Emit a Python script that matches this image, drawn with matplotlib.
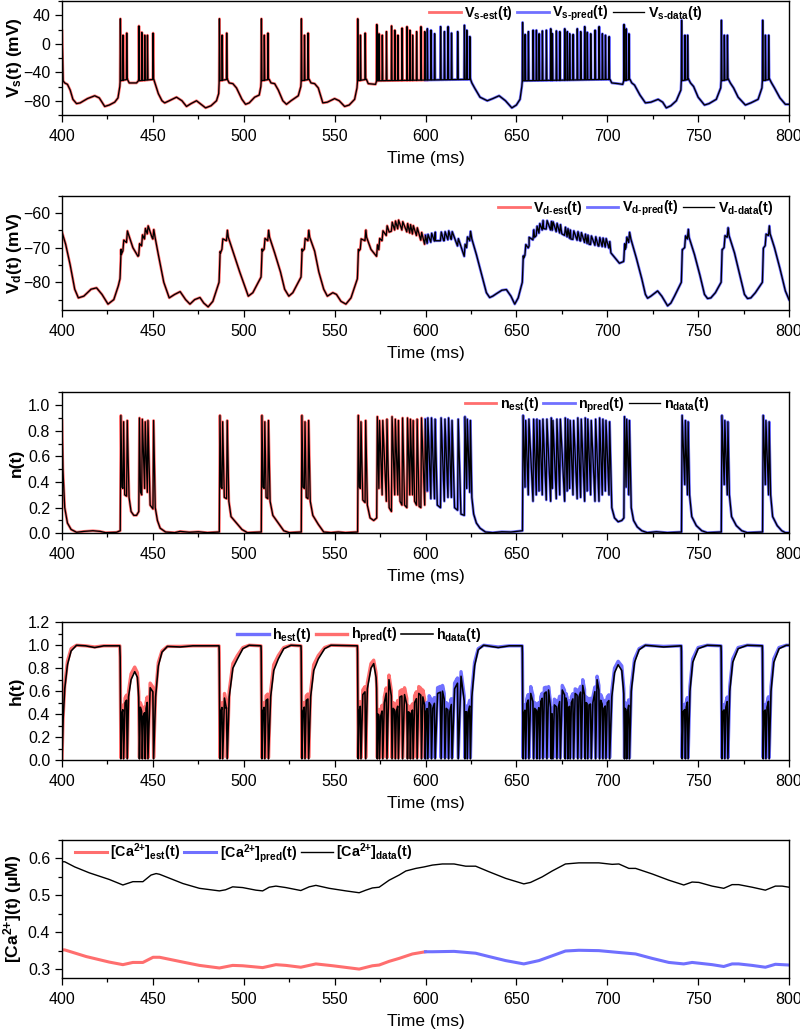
import numpy as np
import matplotlib
matplotlib.use('Agg')
import matplotlib.pyplot as plt
from matplotlib.ticker import MultipleLocator

plt.rcParams['font.family'] = ['Liberation Sans', 'DejaVu Sans']
plt.rcParams['mathtext.fontset'] = 'custom'
plt.rcParams['mathtext.rm'] = 'Liberation Sans:bold'
plt.rcParams['mathtext.it'] = 'Liberation Sans:bold'
plt.rcParams['mathtext.bf'] = 'Liberation Sans:bold'
plt.rcParams['mathtext.default'] = 'rm'

# ---------------- data ----------------
SPLIT_T = 600.0

SPIKE_T = [
    432.1, 433.6, 435.6, 442.3, 443.9, 445.5, 447.0, 450.1,
    486.6, 488.1, 490.6,
    509.7, 511.3, 513.3,
    531.7, 533.4, 535.4,
    562.7, 564.2, 566.8,
    573.2, 574.4, 576.2, 578.5, 581.3, 583.1, 584.8, 587.1, 589.8, 591.4, 592.9, 595.1, 597.5, 599.6,
    601.0, 603.0, 605.0, 608.3, 610.4, 612.4, 614.3, 617.7, 621.4, 622.7, 624.4,
    653.4, 654.8, 656.6, 659.2, 661.0, 662.5, 664.3, 666.5, 668.9, 669.8, 672.0, 673.9, 676.6,
    678.0, 679.3, 681.2, 683.5, 685.4, 687.6, 689.0, 690.9, 693.3, 695.5, 697.3, 699.0, 701.0,
    709.2, 710.4, 711.9,
    740.9, 742.7, 744.2,
    762.8, 764.4, 766.1,
    785.5, 787.0, 788.8]

VS_PEAK = [
    35, 12, 15, 25, 16, 12, 12, 15,
    35, 12, 15,
    35, 12, 15,
    35, 12, 15,
    35, 12, 15,
    27, 14, 12, 17, 25, 19, 12, 22, 24, 19, 12, 17, 24, 17,
    21, 19, 14, 24, 17, 24, 15, 17, 26, 19, 10,
    30, 13, 17, 19, 19, 14, 18, 19, 21, 14, 18, 17, 21,
    17, 14, 13, 21, 17, 24, 16, 14, 19, 24, 14, 12, 10,
    27, 21, 14,
    33, 12, 12,
    33, 12, 12,
    33, 12, 12]

N_PEAK = [
    0.92, 0.87, 0.88, 0.90, 0.89, 0.87, 0.88, 0.88,
    0.92, 0.87, 0.88,
    0.92, 0.87, 0.88,
    0.92, 0.87, 0.88,
    0.92, 0.87, 0.88,
    0.91, 0.88, 0.88, 0.89, 0.91, 0.89, 0.88, 0.90, 0.90, 0.89, 0.88, 0.89, 0.90, 0.89,
    0.90, 0.90, 0.89, 0.90, 0.89, 0.90, 0.88, 0.89, 0.91, 0.89, 0.88,
    0.92, 0.88, 0.89, 0.89, 0.89, 0.88, 0.89, 0.89, 0.90, 0.88, 0.89, 0.89, 0.90,
    0.89, 0.88, 0.88, 0.90, 0.89, 0.90, 0.89, 0.88, 0.89, 0.90, 0.89, 0.88, 0.87,
    0.91, 0.89, 0.88,
    0.92, 0.88, 0.87,
    0.92, 0.88, 0.87,
    0.92, 0.88, 0.87]

# soma voltage: sub-threshold path and inter-spike levels (t, mV)
VS_BASE = [
    (400.0, 18), (400.6, -52), (401.5, -55), (403.0, -57), (404.5, -65), (406.0, -78), (408.0, -84),
    (410.0, -83), (414.0, -77), (418.0, -73), (420.5, -76), (423.5, -88), (426.0, -86), (429.0, -82),
    (430.8, -76), (431.8, -60), (432.0, -52),
    (436.0, -50), (437.0, -55), (441.0, -55), (442.0, -52), (450.5, -50), (451.5, -58), (453.0, -70),
    (455.0, -80), (456.5, -83), (459.0, -80), (463.0, -75), (466.0, -80), (468.5, -88), (471.0, -84),
    (474.0, -80), (476.5, -85), (479.0, -90), (482.0, -87), (485.0, -80), (486.2, -70), (486.5, -52),
    (491.0, -50), (492.0, -55), (494.0, -56), (496.0, -62), (499.0, -78), (501.0, -85), (503.0, -83),
    (506.0, -75), (508.5, -72), (509.4, -60), (509.6, -52),
    (514.0, -50), (515.0, -55), (517.0, -56), (519.0, -65), (521.5, -80), (523.5, -85), (526.0, -80),
    (530.0, -73), (531.4, -60), (531.6, -52),
    (536.0, -50), (537.0, -55), (539.0, -56), (541.0, -62), (543.5, -83), (546.0, -82), (550.0, -77),
    (552.5, -80), (555.5, -88), (558.0, -86), (561.0, -78), (562.3, -62), (562.6, -52),
    (567.5, -50), (568.5, -56), (572.5, -57), (573.1, -52), (624.8, -50), (625.5, -55), (627.0, -62),
    (630.0, -75), (634.0, -80), (637.0, -77), (640.5, -73), (644.0, -80), (647.5, -90), (650.0, -86),
    (652.0, -78), (653.0, -60), (653.2, -52),
    (701.5, -50), (702.5, -55), (706.0, -56), (708.5, -57), (709.0, -52), (712.5, -50), (713.5, -55),
    (715.0, -58), (718.0, -72), (721.0, -83), (724.0, -82), (728.0, -78), (730.5, -82), (732.5, -90),
    (735.0, -87), (738.0, -80), (740.5, -65), (740.7, -52),
    (744.8, -50), (745.8, -55), (747.5, -60), (750.0, -75), (753.5, -86), (756.0, -84), (760.0, -78),
    (762.4, -62), (762.6, -52),
    (766.7, -50), (767.7, -55), (769.5, -62), (772.0, -75), (776.0, -86), (779.0, -83), (783.0, -78),
    (785.1, -62), (785.3, -52),
    (789.4, -50), (790.4, -55), (792.0, -62), (795.0, -76), (798.0, -85), (800.0, -85)]

# dendritic voltage: lower envelope (t, mV); each spike adds a small step
VD_JUMP = 2.5
VD_BASE = [
    (400.0, -65.5), (402.0, -69.0), (404.5, -75.0), (407.0, -82.0), (409.0, -84.5), (412.0, -84.0),
    (416.0, -82.0), (419.0, -81.6), (422.0, -83.5), (425.3, -86.3), (428.5, -85.0), (431.0, -81.0),
    (431.9, -79.0), (432.6, -72.0), (433.45, -71.0), (435.45, -68.5), (436.8, -66.5), (439.0, -70.0),
    (441.8, -72.5), (442.15, -72.3), (443.75, -69.5), (445.35, -67.5), (446.85, -66.0), (449.5, -67.0),
    (449.95, -67.5), (451.2, -67.0), (453.0, -72.0), (456.0, -80.0), (459.0, -84.5), (462.0, -83.5),
    (465.0, -82.7), (468.0, -85.0), (470.4, -86.3), (473.0, -85.0), (475.9, -84.4), (478.0, -86.0),
    (480.4, -87.1), (483.0, -85.5), (486.4, -80.0),
    (487.2, -71.5), (487.95, -70.5), (490.45, -68.0), (491.5, -67.0), (494.0, -71.0), (497.7, -76.9),
    (500.5, -81.0), (502.5, -84.0), (505.0, -83.0), (509.5, -78.5),
    (510.3, -71.0), (511.15, -70.5), (513.15, -68.0), (514.2, -67.0), (517.0, -71.5), (520.2, -77.0),
    (522.5, -82.0), (524.8, -84.0), (527.0, -83.0), (531.5, -78.5),
    (532.3, -71.0), (533.25, -70.5), (535.25, -68.0), (536.3, -67.0), (539.0, -71.0), (541.3, -77.0),
    (544.0, -82.0), (546.0, -84.0), (549.0, -83.0), (551.0, -83.5), (553.5, -85.5), (556.2, -86.3),
    (559.0, -84.5), (562.5, -79.0),
    (563.3, -71.0), (564.05, -70.5), (566.65, -68.0), (567.6, -67.0), (570.0, -70.5), (573.05, -72.5),
    (576.0, -68.0), (580.0, -65.5), (585.0, -64.5), (590.0, -65.5), (595.0, -66.5), (599.5, -69.0),
    (605.5, -68.0), (610.0, -68.0), (614.0, -67.5), (617.6, -69.5), (621.3, -72.5), (622.6, -70.0),
    (624.3, -68.0), (625.5, -67.5), (628.0, -72.0), (631.0, -78.0), (633.5, -83.0), (635.3, -84.4),
    (637.0, -84.0), (639.0, -83.3), (642.0, -82.3), (644.5, -82.1), (647.0, -84.0), (649.1, -86.3),
    (651.0, -84.5), (653.25, -80.0),
    (654.0, -73.0), (657.0, -69.5), (660.0, -67.0), (665.0, -64.5), (670.0, -65.0), (675.0, -66.0),
    (680.0, -67.5), (685.0, -68.0), (690.0, -69.0), (695.0, -69.5), (700.8, -70.0), (702.0, -71.5),
    (706.7, -74.5), (709.0, -74.0), (709.8, -70.5), (710.25, -70.0), (711.75, -68.5), (713.0, -67.5),
    (716.0, -73.0), (719.0, -79.0), (721.0, -83.5), (722.2, -84.6), (724.0, -84.0), (727.7, -82.5),
    (730.0, -84.0), (733.2, -86.8), (735.0, -86.0), (737.0, -84.0), (740.75, -80.0),
    (741.5, -70.5), (742.55, -70.0), (744.05, -67.5), (745.0, -67.0), (748.0, -72.0), (751.0, -78.0),
    (753.5, -83.5), (755.2, -84.7), (757.0, -84.5), (759.5, -83.0), (762.65, -80.0),
    (763.4, -70.5), (764.25, -70.0), (765.95, -67.0), (767.0, -66.5), (770.0, -71.5), (773.0, -78.0),
    (775.5, -83.5), (777.2, -84.7), (779.0, -84.5), (781.5, -83.0), (785.35, -80.0),
    (786.1, -70.0), (786.85, -69.5), (788.65, -66.5), (789.6, -66.0), (792.0, -70.0), (795.0, -76.0),
    (798.0, -82.5), (800.0, -85.0)]

# n gating variable: troughs between spikes (t, n)
N_BASE = [
    (400.0, 0.88), (400.5, 0.50), (401.5, 0.20), (403.0, 0.08), (405.0, 0.03), (408.0, 0.008),
    (412.0, 0.015), (417.0, 0.02), (421.0, 0.015), (424.0, 0.005), (430.0, 0.008), (432.05, 0.02),
    (433.0, 0.36), (433.55, 0.35), (434.5, 0.30), (435.55, 0.29), (436.9, 0.28), (438.0, 0.17),
    (439.5, 0.14), (441.0, 0.14), (442.25, 0.17), (443.2, 0.32), (443.85, 0.30), (445.45, 0.35),
    (446.95, 0.32), (448.5, 0.22), (450.05, 0.19), (451.3, 0.20), (452.5, 0.10), (454.0, 0.04),
    (457.0, 0.01), (462.0, 0.005), (465.0, 0.015), (470.0, 0.008), (475.0, 0.012), (480.0, 0.005),
    (486.55, 0.01),
    (487.5, 0.36), (488.05, 0.35), (489.3, 0.28), (490.55, 0.27), (491.8, 0.25), (493.0, 0.13),
    (496.0, 0.08), (499.0, 0.03), (502.0, 0.005), (509.65, 0.01),
    (510.6, 0.36), (511.25, 0.35), (512.3, 0.28), (513.25, 0.27), (514.5, 0.25), (516.0, 0.14),
    (519.0, 0.08), (522.0, 0.02), (525.0, 0.005), (531.65, 0.01),
    (532.6, 0.36), (533.35, 0.35), (534.4, 0.28), (535.35, 0.27), (536.6, 0.25), (538.0, 0.14),
    (541.0, 0.07), (544.0, 0.01), (548.0, 0.005), (552.0, 0.01), (556.0, 0.005), (562.65, 0.01),
    (563.6, 0.36), (564.15, 0.35), (565.5, 0.26), (566.75, 0.24), (568.0, 0.22), (569.5, 0.12),
    (571.5, 0.10), (573.15, 0.12),
    (574.35, 0.35), (576.15, 0.30), (578.45, 0.25), (580.0, 0.20), (581.25, 0.17), (583.05, 0.30),
    (584.75, 0.30), (586.0, 0.25), (587.05, 0.22), (588.5, 0.22), (589.75, 0.20), (591.35, 0.30),
    (592.85, 0.30), (594.0, 0.25), (595.05, 0.22), (596.5, 0.21), (597.45, 0.20), (599.55, 0.22),
    (600.95, 0.33), (602.95, 0.27), (604.95, 0.27), (606.5, 0.22), (608.25, 0.20), (610.35, 0.25),
    (612.35, 0.28), (614.25, 0.28), (616.0, 0.20), (617.65, 0.18), (619.5, 0.15), (621.35, 0.14),
    (622.65, 0.35), (624.35, 0.32), (625.5, 0.28), (626.5, 0.15), (628.0, 0.08), (630.0, 0.04),
    (633.0, 0.01), (637.0, 0.005), (642.0, 0.012), (647.0, 0.01), (653.35, 0.02),
    (654.75, 0.36), (656.55, 0.30), (659.15, 0.25), (660.95, 0.30), (662.45, 0.33), (664.25, 0.30),
    (666.45, 0.26), (668.85, 0.25), (669.75, 0.35), (671.95, 0.27), (673.85, 0.30), (676.55, 0.25),
    (677.95, 0.33), (679.25, 0.35), (681.15, 0.30), (683.45, 0.27), (685.35, 0.28), (687.55, 0.25),
    (688.95, 0.33), (690.85, 0.30), (693.25, 0.25), (695.45, 0.25), (697.25, 0.30), (698.95, 0.33),
    (700.95, 0.30), (702.5, 0.20), (704.0, 0.12), (706.0, 0.09), (708.0, 0.10), (709.15, 0.12),
    (710.35, 0.36), (711.85, 0.30), (713.2, 0.20), (714.5, 0.10), (716.5, 0.05), (719.0, 0.02),
    (722.0, 0.005), (727.0, 0.012), (733.0, 0.005), (740.85, 0.01),
    (742.65, 0.38), (744.15, 0.30), (745.3, 0.30), (746.5, 0.13), (749.0, 0.06), (752.0, 0.02),
    (755.0, 0.005), (762.75, 0.01),
    (764.35, 0.38), (766.05, 0.30), (767.2, 0.30), (768.4, 0.13), (771.0, 0.06), (774.0, 0.02),
    (777.0, 0.005), (785.45, 0.01),
    (786.95, 0.38), (788.75, 0.30), (789.9, 0.30), (791.0, 0.13), (793.5, 0.06), (796.0, 0.02),
    (798.0, 0.005), (800.0, 0.005)]

# h gating variable: recovery levels between spikes (t, data, est/pred)
H_MIN = 0.01
H_BASE = [
    (400.0, 0.00, 0.00), (400.6, 0.35, 0.37), (401.5, 0.62, 0.65), (403.0, 0.83, 0.86),
    (405.0, 0.95, 0.97), (408.0, 1.00, 1.00), (413.0, 0.995, 0.995), (418.0, 0.98, 0.985),
    (423.0, 0.995, 0.995), (431.8, 0.995, 0.995),
    (432.95, 0.41, 0.45), (434.7, 0.50, 0.54), (436.6, 0.55, 0.60), (438.0, 0.70, 0.75),
    (440.0, 0.77, 0.81), (441.5, 0.72, 0.76), (442.15, 0.55, 0.60), (443.1, 0.46, 0.50),
    (444.7, 0.38, 0.43), (446.25, 0.45, 0.50), (448.5, 0.63, 0.67), (449.8, 0.60, 0.64),
    (451.5, 0.55, 0.58), (453.0, 0.82, 0.85), (455.0, 0.94, 0.95), (458.0, 0.99, 0.99),
    (465.0, 0.985, 0.99), (472.0, 0.995, 0.995), (486.4, 0.995, 0.995),
    (487.35, 0.42, 0.46), (489.4, 0.54, 0.58), (490.4, 0.45, 0.50), (492.0, 0.55, 0.60),
    (494.0, 0.80, 0.84), (496.5, 0.88, 0.91), (499.5, 0.97, 0.98), (503.0, 1.00, 1.00),
    (509.5, 0.995, 0.995),
    (510.5, 0.42, 0.46), (512.3, 0.52, 0.56), (514.8, 0.55, 0.60), (516.5, 0.78, 0.83),
    (519.0, 0.88, 0.91), (522.0, 0.97, 0.98), (526.0, 1.00, 1.00), (531.5, 0.995, 0.995),
    (532.55, 0.42, 0.46), (534.4, 0.52, 0.56), (536.8, 0.55, 0.60), (538.5, 0.78, 0.83),
    (541.0, 0.88, 0.91), (544.5, 0.97, 0.98), (548.0, 1.00, 1.00), (562.5, 0.995, 0.995),
    (563.45, 0.42, 0.46), (565.5, 0.57, 0.61), (568.0, 0.62, 0.67), (570.0, 0.80, 0.84),
    (571.5, 0.84, 0.87), (572.8, 0.72, 0.76), (573.8, 0.40, 0.44), (575.3, 0.38, 0.43),
    (577.35, 0.50, 0.55), (579.9, 0.70, 0.74), (582.2, 0.45, 0.50), (583.95, 0.42, 0.47),
    (585.95, 0.55, 0.60), (588.45, 0.57, 0.63), (590.6, 0.42, 0.47), (592.15, 0.40, 0.45),
    (594.0, 0.50, 0.56), (596.3, 0.58, 0.64), (598.55, 0.55, 0.61), (600.3, 0.42, 0.47),
    (602.0, 0.50, 0.56), (604.0, 0.45, 0.50), (606.65, 0.58, 0.63), (609.35, 0.60, 0.65),
    (611.4, 0.45, 0.50), (613.35, 0.42, 0.47), (616.0, 0.62, 0.67), (619.55, 0.73, 0.77),
    (622.05, 0.42, 0.47), (623.55, 0.42, 0.47), (625.5, 0.55, 0.60), (627.0, 0.82, 0.85),
    (629.0, 0.96, 0.97), (632.0, 1.00, 1.00), (640.0, 0.98, 0.985), (646.0, 0.995, 0.995),
    (653.2, 0.995, 0.995),
    (654.1, 0.40, 0.45), (655.7, 0.49, 0.53), (657.9, 0.58, 0.64), (660.1, 0.45, 0.50),
    (661.75, 0.42, 0.47), (663.4, 0.51, 0.55), (665.4, 0.58, 0.63), (667.7, 0.61, 0.64),
    (669.35, 0.38, 0.43), (670.9, 0.48, 0.53), (672.95, 0.45, 0.50), (675.25, 0.61, 0.65),
    (677.3, 0.54, 0.58), (678.65, 0.45, 0.50), (680.25, 0.50, 0.55), (682.35, 0.58, 0.62),
    (684.45, 0.55, 0.60), (686.5, 0.65, 0.70), (688.3, 0.50, 0.55), (689.95, 0.48, 0.53),
    (692.1, 0.50, 0.55), (694.4, 0.70, 0.73), (696.4, 0.52, 0.57), (698.15, 0.45, 0.50),
    (700.0, 0.50, 0.55), (702.5, 0.55, 0.60), (704.0, 0.76, 0.80), (706.0, 0.83, 0.86),
    (708.0, 0.78, 0.82), (709.8, 0.45, 0.50), (711.15, 0.42, 0.47), (713.2, 0.60, 0.64),
    (715.0, 0.85, 0.88), (717.5, 0.96, 0.97), (721.0, 1.00, 1.00), (731.0, 0.985, 0.99),
    (740.7, 0.995, 0.995),
    (741.8, 0.42, 0.47), (743.45, 0.46, 0.50), (745.5, 0.60, 0.64), (747.0, 0.85, 0.88),
    (750.0, 0.97, 0.98), (755.0, 1.00, 1.00), (762.6, 0.995, 0.995),
    (763.6, 0.42, 0.47), (765.25, 0.46, 0.50), (767.4, 0.60, 0.64), (769.0, 0.85, 0.88),
    (772.0, 0.97, 0.98), (777.0, 1.00, 1.00), (785.3, 0.995, 0.995),
    (786.25, 0.42, 0.47), (787.9, 0.46, 0.50), (790.1, 0.60, 0.64), (791.6, 0.85, 0.88),
    (794.5, 0.97, 0.98), (798.5, 1.00, 1.00), (800.0, 1.00, 1.00)]

# calcium (t, uM)
CA_DATA = [
    (400.0, 0.591), (401.5, 0.591), (407.0, 0.577), (415.0, 0.561), (426.0, 0.543), (433.5, 0.528),
    (435.3, 0.531), (439.0, 0.537), (444.5, 0.537), (449.0, 0.555), (451.8, 0.559), (453.7, 0.557),
    (457.3, 0.550), (466.5, 0.532), (475.6, 0.519), (486.6, 0.512), (490.0, 0.515), (493.9, 0.523),
    (499.4, 0.521), (506.7, 0.514), (510.4, 0.512), (514.0, 0.522), (517.7, 0.525), (523.2, 0.521),
    (531.4, 0.513), (536.0, 0.523), (539.7, 0.527), (547.0, 0.519), (556.2, 0.512), (563.5, 0.507),
    (567.2, 0.514), (570.8, 0.520), (574.5, 0.522), (580.0, 0.541), (585.5, 0.555), (589.2, 0.566),
    (594.7, 0.573), (599.2, 0.577), (603.8, 0.582), (609.3, 0.585), (615.7, 0.585), (622.1, 0.579),
    (627.6, 0.579), (634.9, 0.564), (644.1, 0.546), (654.1, 0.531), (657.8, 0.535), (664.2, 0.550),
    (669.7, 0.566), (677.0, 0.585), (684.4, 0.588), (695.4, 0.588), (702.7, 0.584), (706.4, 0.585),
    (711.9, 0.573), (715.6, 0.573), (724.7, 0.558), (733.9, 0.541), (742.1, 0.528), (746.7, 0.536),
    (750.4, 0.535), (757.7, 0.525), (764.1, 0.519), (768.7, 0.529), (772.3, 0.529), (779.7, 0.522),
    (787.0, 0.514), (792.5, 0.525), (796.2, 0.525), (800.0, 0.522)]

CA_MODEL = [
    (400.0, 0.352), (401.5, 0.352), (413.3, 0.334), (426.0, 0.319), (433.5, 0.312), (439.0, 0.318),
    (444.5, 0.318), (450.1, 0.332), (453.7, 0.332), (466.5, 0.319), (475.6, 0.310), (486.6, 0.303),
    (493.9, 0.310), (499.4, 0.309), (510.4, 0.304), (517.7, 0.312), (523.2, 0.310), (531.4, 0.305),
    (539.7, 0.314), (549.0, 0.309), (563.5, 0.300), (570.8, 0.309), (574.5, 0.311), (580.0, 0.321),
    (585.5, 0.329), (592.8, 0.341), (600.0, 0.347), (603.8, 0.347), (615.7, 0.348), (627.6, 0.343),
    (634.9, 0.334), (644.1, 0.323), (654.1, 0.314), (662.4, 0.323), (669.7, 0.336), (677.0, 0.349),
    (684.4, 0.351), (695.4, 0.350), (706.4, 0.345), (715.6, 0.341), (724.7, 0.329), (733.9, 0.318),
    (742.1, 0.314), (746.7, 0.318), (750.4, 0.316), (757.7, 0.312), (764.1, 0.307), (768.7, 0.314),
    (772.3, 0.314), (779.7, 0.310), (787.0, 0.305), (792.5, 0.313), (800.0, 0.311)]

# ---------------- assemble traces ----------------
def compose(base, verts, windows):
    bt = np.array([p[0] for p in base], float)
    bv = np.array([p[1] for p in base], float)
    keep = np.ones(len(bt), bool)
    for lo, hi in windows:
        keep &= ~((bt > lo) & (bt < hi))
    t = np.concatenate([bt[keep], np.array([v[0] for v in verts], float)])
    y = np.concatenate([bv[keep], np.array([v[1] for v in verts], float)])
    o = np.argsort(t, kind='stable')
    return t[o], y[o]


def foot(base, t):
    return float(np.interp(t, [p[0] for p in base], [p[1] for p in base]))


# Vs
verts, wins = [], []
for ts, pk in zip(SPIKE_T, VS_PEAK):
    verts += [(ts - 0.15, foot(VS_BASE, ts - 0.15)), (ts + 0.02, pk), (ts + 0.3, foot(VS_BASE, ts + 0.3))]
    wins.append((ts - 0.15, ts + 0.3))
vs_t, vs_v = compose(VS_BASE, verts, wins)

# Vd
verts, wins = [], []
for ts in SPIKE_T:
    verts += [(ts - 0.1, foot(VD_BASE, ts - 0.1)), (ts + 0.4, foot(VD_BASE, ts + 0.4) + VD_JUMP)]
    wins.append((ts - 0.1, ts + 0.4))
vd_t, vd_v = compose(VD_BASE, verts, wins)

# n
verts, wins = [], []
for ts, pk in zip(SPIKE_T, N_PEAK):
    verts.append((ts + 0.3, pk))
    wins.append((ts, ts + 0.3))
n_t, n_v = compose(N_BASE, verts, wins)

# h (data and model)
HD = [(p[0], p[1]) for p in H_BASE]
HM = [(p[0], p[2]) for p in H_BASE]
verts_d, verts_m, wins = [], [], []
for ts in SPIKE_T:
    verts_d += [(ts - 0.1, foot(HD, ts - 0.1)), (ts + 0.3, H_MIN)]
    verts_m += [(ts - 0.1, foot(HM, ts - 0.1)), (ts + 0.3, H_MIN + 0.01)]
    wins.append((ts - 0.1, ts + 0.3))
hd_t, hd_v = compose(HD, verts_d, wins)
hm_t, hm_v = compose(HM, verts_m, wins)

ca_t = np.array([p[0] for p in CA_DATA]); ca_v = np.array([p[1] for p in CA_DATA])
cm_t = np.array([p[0] for p in CA_MODEL]); cm_v = np.array([p[1] for p in CA_MODEL])

# ---------------- drawing ----------------
RED = '#ff6e6e'
BLUE = '#7070ff'
BLACK = '#000000'
HY = '\u2010'

fig = plt.figure(figsize=(8.0, 10.3), dpi=100)

L, W = 62 / 800, 727 / 800
def axes_px(top, bottom):
    return fig.add_axes([L, 1 - bottom / 1030, W, (bottom - top) / 1030])


def split(t, v):
    i_end = np.searchsorted(t, SPLIT_T, side='left')
    i_beg = np.searchsorted(t, SPLIT_T, side='right') - 1
    return (t[:i_end + 1], v[:i_end + 1]), (t[i_beg:], v[i_beg:])


def style(ax, ylim, major, minor, ylabel):
    ax.set_xlim(400, 800)
    ax.set_ylim(*ylim)
    ax.xaxis.set_major_locator(MultipleLocator(50))
    ax.xaxis.set_minor_locator(MultipleLocator(25))
    ax.yaxis.set_major_locator(MultipleLocator(major))
    ax.yaxis.set_minor_locator(MultipleLocator(minor))
    ax.tick_params(which='both', direction='out', top=False, right=False, labelsize=11.5, width=0.9)
    ax.tick_params(axis='x', which='major', pad=5)
    ax.tick_params(which='major', length=5)
    ax.tick_params(which='minor', length=3)
    for s in ax.spines.values():
        s.set_linewidth(1.0)
    ax.set_xlabel('Time (ms)', fontsize=12.5, labelpad=5)
    ax.set_ylabel(ylabel, fontsize=12.5, fontweight='bold')
    ax.yaxis.set_label_coords(-0.052, 0.5)


def legend(ax, handles, labels, x0, yc):
    ax.legend(handles, labels, loc='center left', bbox_to_anchor=(x0, yc), ncol=3, frameon=False,
              prop={'weight': 'bold', 'size': 10.3}, handlelength=2.2, handletextpad=0.25,
              columnspacing=0.3, borderpad=0.0, borderaxespad=0.0)


LW_M, LW_D = 2.0, 0.95

# panel 1: Vs
ax = axes_px(1, 115)
(a, b), (c, d) = split(vs_t, vs_v)
h1, = ax.plot(a, b, color=RED, lw=LW_M)
h2, = ax.plot(c, d, color=BLUE, lw=LW_M)
h3, = ax.plot(vs_t, vs_v, color=BLACK, lw=LW_D)
style(ax, (-100, 60), 40, 20, r'V$_{s}$(t) (mV)')
legend(ax, [h1, h2, h3], ['V$_{s' + HY + 'est}$(t)', 'V$_{s' + HY + 'pred}$(t)', 'V$_{s' + HY + 'data}$(t)'],
       0.505, 0.89)

# panel 2: Vd
ax = axes_px(195.7, 310)
(a, b), (c, d) = split(vd_t, vd_v)
h1, = ax.plot(a, b, color=RED, lw=LW_M)
h2, = ax.plot(c, d, color=BLUE, lw=LW_M)
h3, = ax.plot(vd_t, vd_v, color=BLACK, lw=LW_D)
style(ax, (-88, -55), 10, 5, r'V$_{d}$(t) (mV)')
legend(ax, [h1, h2, h3], ['V$_{d' + HY + 'est}$(t)', 'V$_{d' + HY + 'pred}$(t)', 'V$_{d' + HY + 'data}$(t)'],
       0.600, 0.89)

# panel 3: n
ax = axes_px(392.3, 533.3)
(a, b), (c, d) = split(n_t, n_v)
h1, = ax.plot(a, b, color=RED, lw=LW_M)
h2, = ax.plot(c, d, color=BLUE, lw=LW_M)
h3, = ax.plot(n_t, n_v, color=BLACK, lw=LW_D)
style(ax, (0, 1.1), 0.2, 0.1, 'n(t)')
legend(ax, [h1, h2, h3], [r'n$_{est}$(t)', r'n$_{pred}$(t)', r'n$_{data}$(t)'], 0.554, 0.91)

# panel 4: h
ax = axes_px(622.3, 760)
(a, b), (c, d) = split(hm_t, hm_v)
h1, = ax.plot(a, b, color=RED, lw=LW_M + 0.4)
h2, = ax.plot(c, d, color=BLUE, lw=LW_M + 0.4)
h3, = ax.plot(hd_t, hd_v, color=BLACK, lw=LW_D + 0.2)
style(ax, (0, 1.2), 0.2, 0.1, 'h(t)')
legend(ax, [h2, h1, h3], [r'h$_{est}$(t)', r'h$_{pred}$(t)', r'h$_{data}$(t)'], 0.241, 0.905)

# panel 5: Ca
ax = axes_px(840, 978.3)
(a, b), (c, d) = split(cm_t, cm_v)
h1, = ax.plot(a, b, color=RED, lw=2.2)
h2, = ax.plot(c, d, color=BLUE, lw=2.2)
h3, = ax.plot(ca_t, ca_v, color=BLACK, lw=1.0)
style(ax, (0.275, 0.65), 0.1, 0.05, '[Ca$^{2{+}}$](t) (\u03bcM)')
legend(ax, [h1, h2, h3], [r'[Ca$^{2{+}}$]$_{est}$(t)', r'[Ca$^{2{+}}$]$_{pred}$(t)', r'[Ca$^{2{+}}$]$_{data}$(t)'],
       0.018, 0.905)

fig.savefig('out.png', dpi=100)
